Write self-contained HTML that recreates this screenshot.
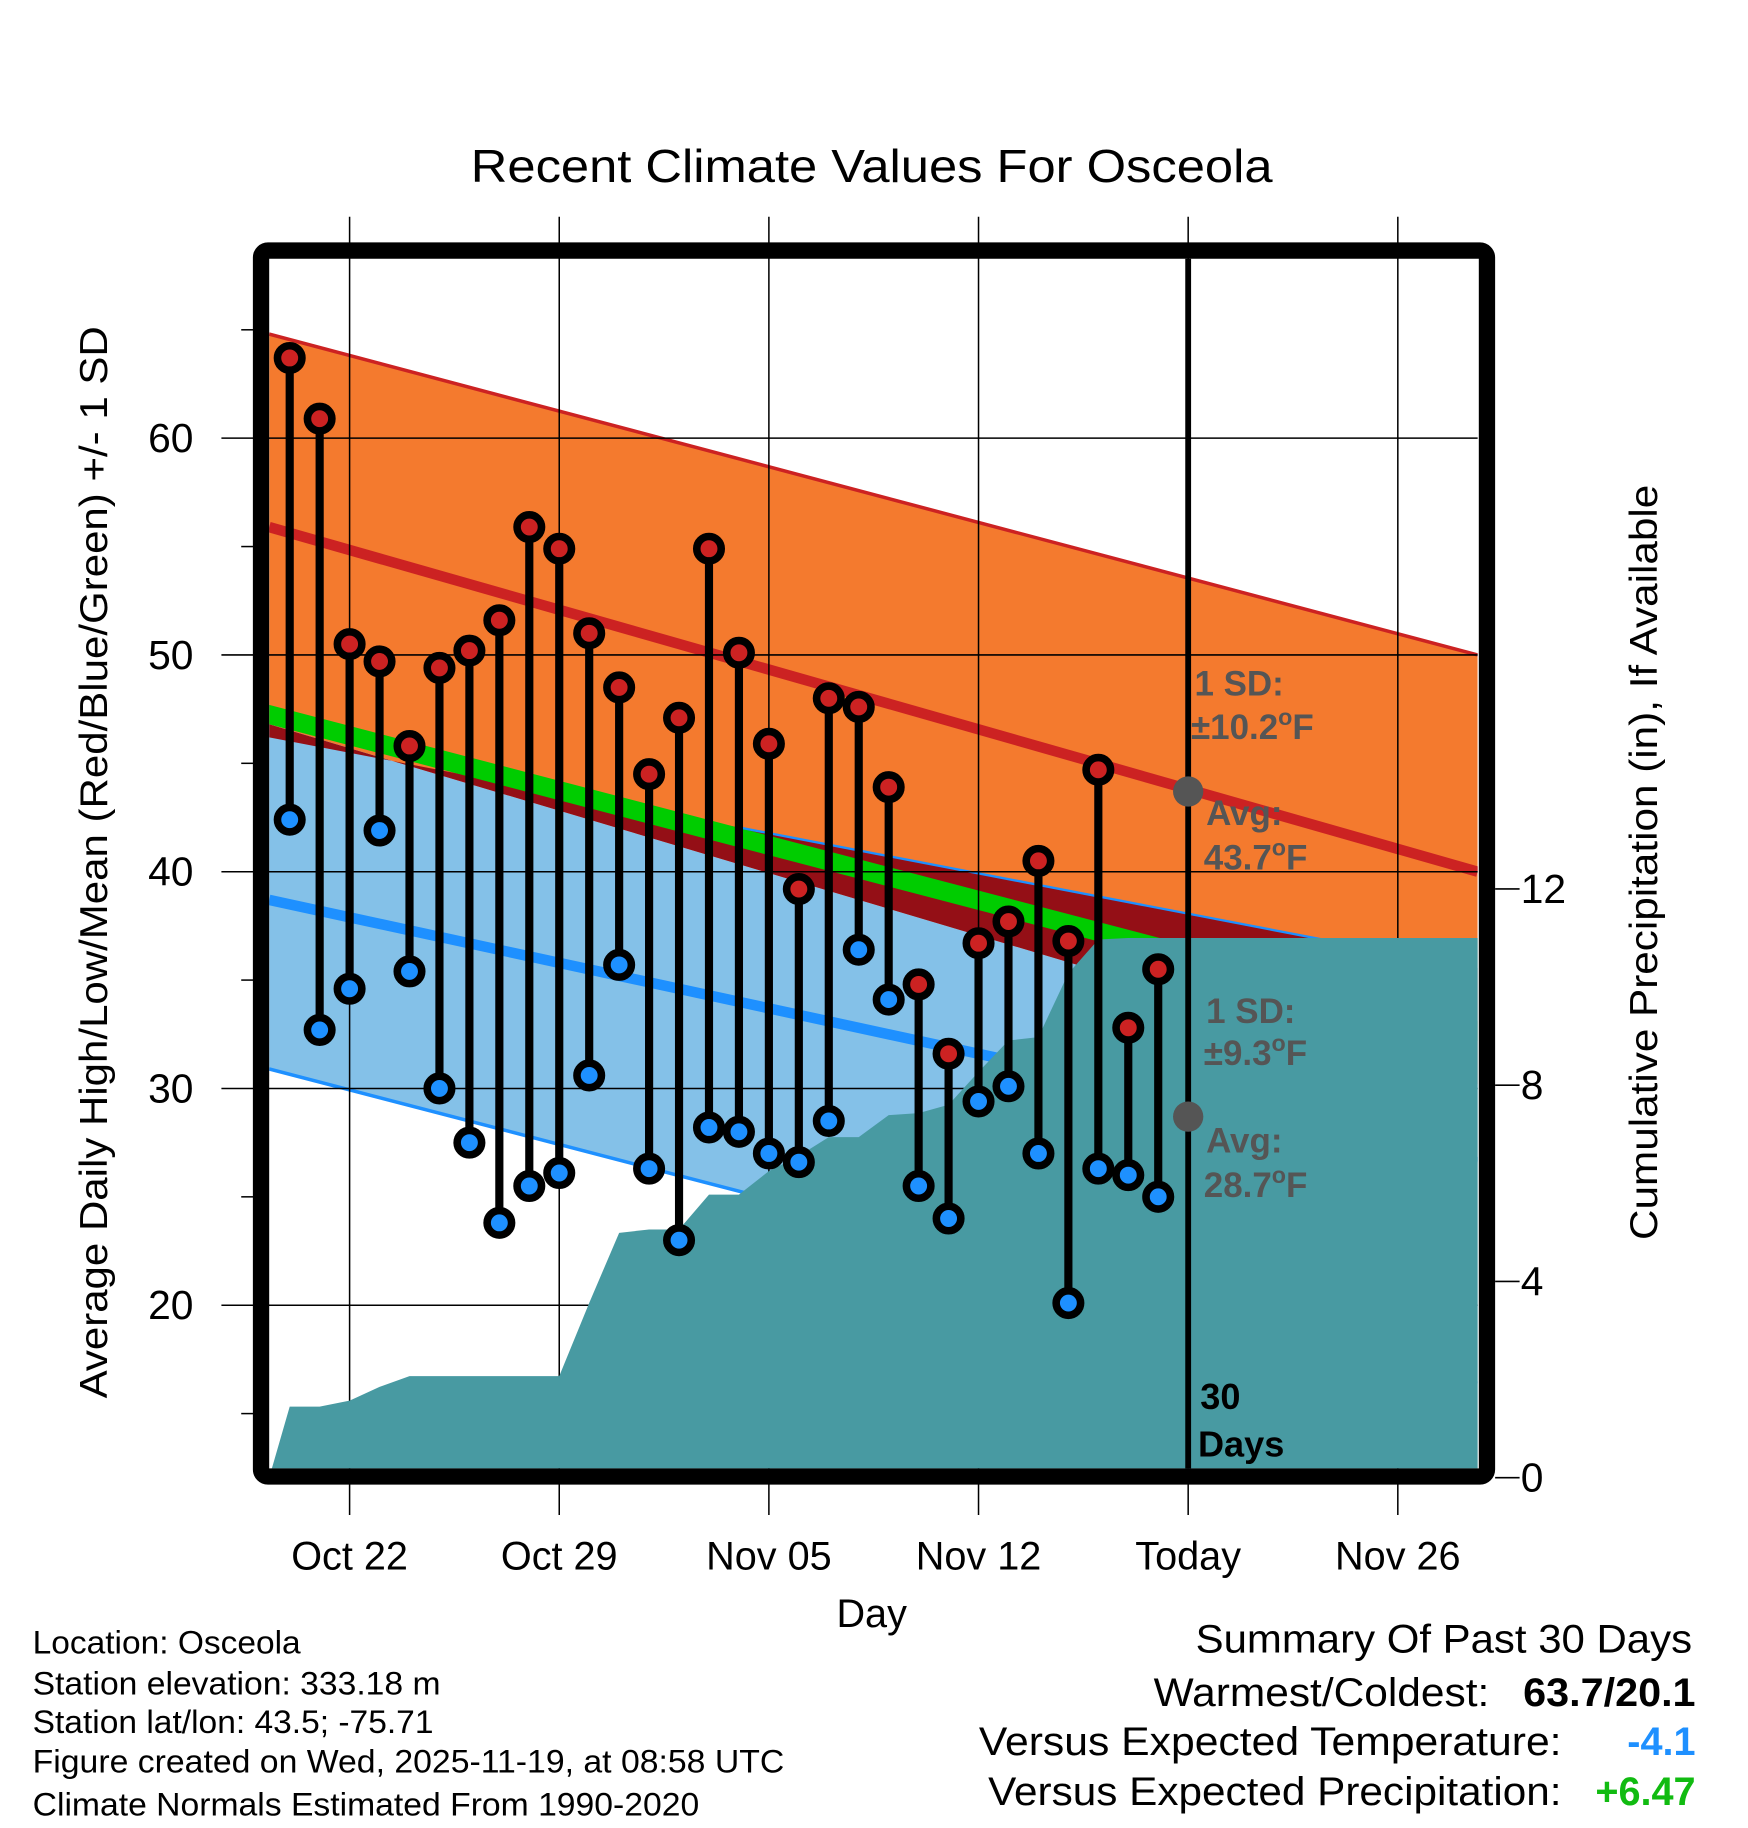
<!DOCTYPE html>
<html><head><meta charset="utf-8"><style>
html,body{margin:0;padding:0;background:#fff}
svg{display:block}
text{font-family:"Liberation Sans",Arial,sans-serif}
</style></head><body>
<svg id="chart" xmlns="http://www.w3.org/2000/svg" width="1748" height="1828" viewBox="0 0 1500 1568.6" preserveAspectRatio="none">
<defs><clipPath id="plotclip"><rect x="231" y="222" width="1037" height="1038"/></clipPath></defs>
<g id="bands" clip-path="url(#plotclip)"></g>
<g id="grid"></g>
<g id="precip" clip-path="url(#plotclip)"></g>
<g id="marks"></g>
<g id="labels"></g>
</svg>
<script>
// ---- data ----
const dayLabels = ["Oct 20","Oct 21","Oct 22","Oct 23","Oct 24","Oct 25","Oct 26","Oct 27","Oct 28","Oct 29","Oct 30","Oct 31","Nov 01","Nov 02","Nov 03","Nov 04","Nov 05","Nov 06","Nov 07","Nov 08","Nov 09","Nov 10","Nov 11","Nov 12","Nov 13","Nov 14","Nov 15","Nov 16","Nov 17","Nov 18"];
const dayIndex = [-2,-1,0,1,2,3,4,5,6,7,8,9,10,11,12,13,14,15,16,17,18,19,20,21,22,23,24,25,26,27];
const highs = [63.7,60.9,50.5,49.7,45.8,49.4,50.2,51.6,55.9,54.9,51.0,48.5,44.5,47.1,54.9,50.1,45.9,39.2,48.0,47.6,43.9,34.8,31.6,36.7,37.7,40.5,36.8,44.7,32.8,35.5];
const lows  = [42.4,32.7,34.6,41.9,35.4,30.0,27.5,23.8,25.5,26.1,30.6,35.7,26.3,23.0,28.2,28.0,27.0,26.6,28.5,36.4,34.1,25.5,24.0,29.4,30.1,27.0,20.1,26.3,26.0,25.0];
const precipCum = [1.45,1.45,1.57,1.85,2.07,2.07,2.07,2.07,2.07,2.07,3.56,4.99,5.06,5.06,5.77,5.77,6.25,6.56,6.94,6.94,7.39,7.43,7.60,8.27,8.91,8.98,10.28,10.97,11.0,11.0];
// normals at plot left edge / right edge
const normHigh = [55.9, 40.0];
const normHighUpper = [64.8, 50.0];
const normHighLower = [46.8, 30.2];
const normLow = [38.7, 26.6];
const normLowUpper = [46.2, 35.5];
const normLowLower = [30.9, 16.4];
const meanBandTop = [47.7, 33.1];
const meanBandBottom = [46.8, 32.2];
const xTickDays = [0,7,14,21,28,35];
const xTickLabels = ["Oct 22","Oct 29","Nov 05","Nov 12","Today","Nov 26"];
const yTicks = [20,30,40,50,60];
const yMinorTicks = [15,25,35,45,55,65];
const pTicks = [0,4,8,12];

// ---- axes ----
const L=231,R=1268,T=222,B=1260;
const dayLeft=(L-300)/25.7, dayRight=(R-300)/25.7;
const x=d=>300+d*25.7;
const y=t=>376+(60-t)*18.6;
const yp=p=>1268-p*42.1;
const NS="http://www.w3.org/2000/svg";
function mk(parent,tag,attrs){const e=document.createElementNS(NS,tag);for(const k in attrs)e.setAttribute(k,attrs[k]);document.getElementById(parent).appendChild(e);return e;}
function lineAt(arr,d){return arr[0]+(arr[1]-arr[0])*(d-dayLeft)/(dayRight-dayLeft);}
function pts(arr,d0,d1,n){const o=[];for(let i=0;i<=n;i++){const d=d0+(d1-d0)*i/n;o.push([x(d),y(lineAt(arr,d))]);}return o;}
const P=a=>a.map(p=>p[0].toFixed(1)+","+p[1].toFixed(1)).join(" ");

let e;
// orange band
e=mk("bands","polygon",{points:P(pts(normHighUpper,dayLeft,dayRight,1).concat(pts(normHighLower,dayRight,dayLeft,1))),fill:"#f47a2e"});


e=mk("bands","polyline",{points:P(pts(normHighUpper,dayLeft,dayRight,1)),fill:"none",stroke:"#cc2222","stroke-width":3});


// light blue band
e=mk("bands","polygon",{points:P(pts(normHighLower,dayLeft,dayRight,1).concat(pts(normLowLower,dayRight,dayLeft,1))),fill:"#84c1e8"});


// maroon overlap
e=mk("bands","polygon",{points:P(pts(normLowUpper,dayLeft,dayRight,1).concat(pts(normHighLower,dayRight,dayLeft,1))),fill:"#940f16"});


// green band
e=mk("bands","polygon",{points:P(pts(meanBandTop,dayLeft,dayRight,1).concat(pts(meanBandBottom,dayRight,dayLeft,1))),fill:"#00cc00"});


// thin blue lines
e=mk("bands","polyline",{points:P(pts(normLowUpper,(634-300)/25.7,dayRight,1)),fill:"none",stroke:"#1e90ff","stroke-width":2});


e=mk("bands","polyline",{points:P(pts(normLowLower,dayLeft,dayRight,1)),fill:"none",stroke:"#1e90ff","stroke-width":3});


// avg lines
e=mk("bands","polyline",{points:P(pts(normLow,dayLeft,dayRight,1)),fill:"none",stroke:"#1e90ff","stroke-width":9});


e=mk("bands","polyline",{points:P(pts(normHigh,dayLeft,dayRight,1)),fill:"none",stroke:"#cc2222","stroke-width":9});



// grid
yTicks.forEach(t=>{
  e=mk("grid","line",{x1:190,x2:R,y1:y(t),y2:y(t),stroke:"#000","stroke-width":1.3});
  
  
  e=mk("labels","text",{x:166,y:y(t)+12,"text-anchor":"end","font-size":35});
  e.textContent=t;
  
  
});
yMinorTicks.forEach(t=>{
  e=mk("grid","line",{x1:207,x2:220,y1:y(t),y2:y(t),stroke:"#000","stroke-width":1.3});
  
  
});
xTickDays.forEach((d,i)=>{
  e=mk("grid","line",{x1:x(d),x2:x(d),y1:186,y2:1300,stroke:"#000","stroke-width":1.3});
  
  
  e=mk("labels","text",{x:x(d),y:1347,"text-anchor":"middle","font-size":34});
  e.textContent=xTickLabels[i];
  
  
});
pTicks.forEach(p=>{
  e=mk("grid","line",{x1:1283,x2:1304,y1:yp(p),y2:yp(p),stroke:"#000","stroke-width":1.3});
  
  
  e=mk("labels","text",{x:1305,y:yp(p)+12,"font-size":35});
  e.textContent=p;
  
  
});

// precip area
{
  const pp=[[L,yp(0)],[x(dayLeft),yp(0)]];
  dayIndex.forEach((d,i)=>pp.push([x(d),yp(precipCum[i])]));
  pp.push([R+5,yp(precipCum[precipCum.length-1])],[R+5,B+10],[L,B+10]);
  e=mk("precip","polygon",{points:P(pp),fill:"#489aa2"});
  
  
}

// today line
e=mk("marks","line",{x1:x(28),x2:x(28),y1:T,y2:B,stroke:"#000","stroke-width":5});



// stems and points
dayIndex.forEach((d,i)=>{
  e=mk("marks","line",{x1:x(d),x2:x(d),y1:y(highs[i]),y2:y(lows[i]),stroke:"#000","stroke-width":7});
  
  
});
dayIndex.forEach((d,i)=>{
  e=mk("marks","circle",{cx:x(d),cy:y(highs[i]),r:10.5,fill:"#cc2222",stroke:"#000","stroke-width":6.5});
  
  
  e=mk("marks","circle",{cx:x(d),cy:y(lows[i]),r:10.5,fill:"#1e90ff",stroke:"#000","stroke-width":6.5});
  
  
});
// today avg dots
const todayHigh=43.7, todayLow=28.7;
e=mk("marks","circle",{cx:x(28),cy:y(todayHigh),r:13,fill:"#555"});


e=mk("marks","circle",{cx:x(28),cy:y(todayLow),r:13,fill:"#555"});


</script>
<svg style="position:absolute;left:0;top:0" width="1748" height="1828" viewBox="0 0 1500 1568.6" preserveAspectRatio="none" xmlns="http://www.w3.org/2000/svg">
<rect x="224" y="215" width="1052" height="1052" rx="6" fill="none" stroke="#000" stroke-width="14"/>
<g font-family="Liberation Sans, Arial, sans-serif" font-weight="bold" fill="#555" font-size="30">
<text x="1025" y="597">1 SD:</text>
<text x="1022" y="634">±10.2<tspan font-size="20" dy="-12">o</tspan><tspan dy="12">F</tspan></text>
<text x="1035" y="708">Avg:</text>
<text x="1033" y="746">43.7<tspan font-size="20" dy="-12">o</tspan><tspan dy="12">F</tspan></text>
<text x="1035" y="878">1 SD:</text>
<text x="1033" y="914">±9.3<tspan font-size="20" dy="-12">o</tspan><tspan dy="12">F</tspan></text>
<text x="1035" y="989">Avg:</text>
<text x="1033" y="1027">28.7<tspan font-size="20" dy="-12">o</tspan><tspan dy="12">F</tspan></text>
</g>
<g font-family="Liberation Sans, Arial, sans-serif" font-weight="bold" fill="#000" font-size="31">
<text x="1030" y="1209">30</text>
<text x="1028" y="1250">Days</text>
</g>
<g font-family="Liberation Sans, Arial, sans-serif" fill="#000">
<text x="748" y="156" text-anchor="middle" font-size="40" textLength="688" lengthAdjust="spacingAndGlyphs">Recent Climate Values For Osceola</text>
<text x="748" y="1396" text-anchor="middle" font-size="34">Day</text>
<text transform="translate(92,740) rotate(-90)" text-anchor="middle" font-size="33" textLength="920" lengthAdjust="spacingAndGlyphs">Average Daily High/Low/Mean (Red/Blue/Green) +/- 1 SD</text>
<text transform="translate(1422,740) rotate(-90)" text-anchor="middle" font-size="33" textLength="648" lengthAdjust="spacingAndGlyphs">Cumulative Precipitation (in), If Available</text>
<g font-size="28">
<text x="28" y="1419" textLength="230" lengthAdjust="spacingAndGlyphs">Location: Osceola</text>
<text x="28" y="1454" textLength="350" lengthAdjust="spacingAndGlyphs">Station elevation: 333.18 m</text>
<text x="28" y="1487" textLength="344" lengthAdjust="spacingAndGlyphs">Station lat/lon: 43.5; -75.71</text>
<text x="28" y="1521" textLength="645" lengthAdjust="spacingAndGlyphs">Figure created on Wed, 2025-11-19, at 08:58 UTC</text>
<text x="28" y="1558" textLength="572" lengthAdjust="spacingAndGlyphs">Climate Normals Estimated From 1990-2020</text>
</g>
<g font-size="34">
<text x="1452" y="1418" text-anchor="end" textLength="426" lengthAdjust="spacingAndGlyphs">Summary Of Past 30 Days</text>
<text x="1278" y="1464" text-anchor="end" textLength="288" lengthAdjust="spacingAndGlyphs">Warmest/Coldest:</text>
<text x="1455" y="1464" text-anchor="end" font-weight="bold" textLength="148" lengthAdjust="spacingAndGlyphs">63.7/20.1</text>
<text x="1340" y="1506" text-anchor="end" textLength="500" lengthAdjust="spacingAndGlyphs">Versus Expected Temperature:</text>
<text x="1455" y="1506" text-anchor="end" font-weight="bold" fill="#1e90ff">-4.1</text>
<text x="1340" y="1549" text-anchor="end" textLength="492" lengthAdjust="spacingAndGlyphs">Versus Expected Precipitation:</text>
<text x="1455" y="1549" text-anchor="end" font-weight="bold" fill="#11bb11">+6.47</text>
</g>
</g>
</svg>
</body></html>
